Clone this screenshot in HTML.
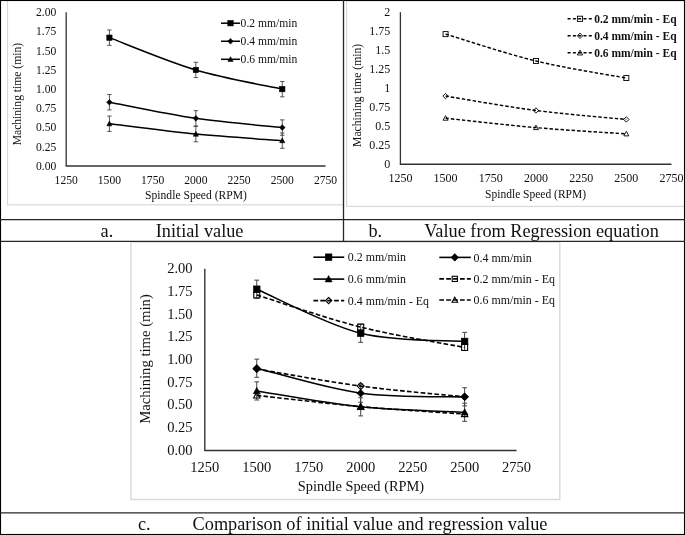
<!DOCTYPE html>
<html><head><meta charset="utf-8"><title>Machining time charts</title>
<style>
html,body{margin:0;padding:0;background:#fff;width:685px;height:535px;overflow:hidden}
svg{display:block}
text{font-family:"Liberation Serif", serif;fill:#111}
</style></head><body>
<svg width="685" height="535" viewBox="0 0 685 535" style="filter:grayscale(1)" font-family='"Liberation Serif", serif' fill="#111">
<rect width="685" height="535" fill="#fff"/>
<g>
<rect x="7.5" y="-1" width="336" height="205.8" fill="none" stroke="#d9d9d9" stroke-width="1.2"/>
<line x1="66.20" y1="12.30" x2="66.20" y2="166.00" stroke="#333" stroke-width="1.3"/>
<line x1="65.60" y1="166.00" x2="325.50" y2="166.00" stroke="#333" stroke-width="1.4"/>
<text x="56.30" y="169.90" font-size="11.6" text-anchor="end">0.00</text>
<text x="56.30" y="150.69" font-size="11.6" text-anchor="end">0.25</text>
<text x="56.30" y="131.47" font-size="11.6" text-anchor="end">0.50</text>
<text x="56.30" y="112.26" font-size="11.6" text-anchor="end">0.75</text>
<text x="56.30" y="93.05" font-size="11.6" text-anchor="end">1.00</text>
<text x="56.30" y="73.84" font-size="11.6" text-anchor="end">1.25</text>
<text x="56.30" y="54.63" font-size="11.6" text-anchor="end">1.50</text>
<text x="56.30" y="35.41" font-size="11.6" text-anchor="end">1.75</text>
<text x="56.30" y="16.20" font-size="11.6" text-anchor="end">2.00</text>
<text x="66.20" y="183.60" font-size="11.6" text-anchor="middle">1250</text>
<text x="109.42" y="183.60" font-size="11.6" text-anchor="middle">1500</text>
<text x="152.63" y="183.60" font-size="11.6" text-anchor="middle">1750</text>
<text x="195.85" y="183.60" font-size="11.6" text-anchor="middle">2000</text>
<text x="239.07" y="183.60" font-size="11.6" text-anchor="middle">2250</text>
<text x="282.28" y="183.60" font-size="11.6" text-anchor="middle">2500</text>
<text x="325.50" y="183.60" font-size="11.6" text-anchor="middle">2750</text>
<text x="196.00" y="199.20" font-size="11.6" text-anchor="middle">Spindle Speed (RPM)</text>
<text x="21.50" y="94.10" font-size="11.6" text-anchor="middle" transform="rotate(-90 21.50 94.10)">Machining time (min)</text>
<path d="M109.42,29.98 V45.35 M107.22,29.98 H111.62 M107.22,45.35 H111.62" stroke="#444" stroke-width="0.9" fill="none"/>
<path d="M195.85,62.25 V77.62 M193.65,62.25 H198.05 M193.65,77.62 H198.05" stroke="#444" stroke-width="0.9" fill="none"/>
<path d="M282.28,81.47 V96.84 M280.08,81.47 H284.48 M280.08,96.84 H284.48" stroke="#444" stroke-width="0.9" fill="none"/>
<path d="M109.42,37.66 C123.82,43.04 167.04,61.36 195.85,69.94 C224.66,78.52 267.88,85.95 282.28,89.15" stroke="#000" stroke-width="1.5" fill="none"/>
<rect x="106.77" y="35.01" width="5.30" height="5.30" fill="#000" stroke="#000" stroke-width="0.6"/>
<rect x="193.20" y="67.29" width="5.30" height="5.30" fill="#000" stroke="#000" stroke-width="0.6"/>
<rect x="279.63" y="86.50" width="5.30" height="5.30" fill="#000" stroke="#000" stroke-width="0.6"/>
<path d="M109.42,94.53 V109.90 M107.22,94.53 H111.62 M107.22,109.90 H111.62" stroke="#444" stroke-width="0.9" fill="none"/>
<path d="M195.85,110.67 V126.04 M193.65,110.67 H198.05 M193.65,126.04 H198.05" stroke="#444" stroke-width="0.9" fill="none"/>
<path d="M282.28,119.89 V135.26 M280.08,119.89 H284.48 M280.08,135.26 H284.48" stroke="#444" stroke-width="0.9" fill="none"/>
<path d="M109.42,102.21 C123.82,104.90 167.04,114.13 195.85,118.35 C224.66,122.58 267.88,126.04 282.28,127.58" stroke="#000" stroke-width="1.5" fill="none"/>
<path d="M109.42,99.41 L112.22,102.21 L109.42,105.01 L106.62,102.21 Z" fill="#000" stroke="#000" stroke-width="0.6"/>
<path d="M195.85,115.55 L198.65,118.35 L195.85,121.15 L193.05,118.35 Z" fill="#000" stroke="#000" stroke-width="0.6"/>
<path d="M282.28,124.78 L285.08,127.58 L282.28,130.38 L279.48,127.58 Z" fill="#000" stroke="#000" stroke-width="0.6"/>
<path d="M109.42,116.05 V131.42 M107.22,116.05 H111.62 M107.22,131.42 H111.62" stroke="#444" stroke-width="0.9" fill="none"/>
<path d="M195.85,126.42 V141.79 M193.65,126.42 H198.05 M193.65,141.79 H198.05" stroke="#444" stroke-width="0.9" fill="none"/>
<path d="M282.28,132.95 V148.32 M280.08,132.95 H284.48 M280.08,148.32 H284.48" stroke="#444" stroke-width="0.9" fill="none"/>
<path d="M109.42,123.73 C123.82,125.46 167.04,131.29 195.85,134.11 C224.66,136.93 267.88,139.55 282.28,140.64" stroke="#000" stroke-width="1.5" fill="none"/>
<path d="M109.42,121.13 L112.02,125.81 L106.82,125.81 Z" fill="#000" stroke="#000" stroke-width="0.6" stroke-linejoin="miter"/>
<path d="M195.85,131.51 L198.45,136.19 L193.25,136.19 Z" fill="#000" stroke="#000" stroke-width="0.6" stroke-linejoin="miter"/>
<path d="M282.28,138.04 L284.88,142.72 L279.68,142.72 Z" fill="#000" stroke="#000" stroke-width="0.6" stroke-linejoin="miter"/>
<line x1="221" y1="23.20" x2="240" y2="23.20" stroke="#000" stroke-width="1.5"/>
<rect x="227.80" y="20.50" width="5.40" height="5.40" fill="#000" stroke="#000" stroke-width="0.6"/>
<text x="240.60" y="27.10" font-size="11.6" text-anchor="start">0.2 mm/min</text>
<line x1="221" y1="41.25" x2="240" y2="41.25" stroke="#000" stroke-width="1.5"/>
<path d="M230.50,38.45 L233.30,41.25 L230.50,44.05 L227.70,41.25 Z" fill="#000" stroke="#000" stroke-width="0.6"/>
<text x="240.60" y="45.15" font-size="11.6" text-anchor="start">0.4 mm/min</text>
<line x1="221" y1="59.30" x2="240" y2="59.30" stroke="#000" stroke-width="1.5"/>
<path d="M230.50,56.70 L233.10,61.38 L227.90,61.38 Z" fill="#000" stroke="#000" stroke-width="0.6" stroke-linejoin="miter"/>
<text x="240.60" y="63.20" font-size="11.6" text-anchor="start">0.6 mm/min</text>
<rect x="346.6" y="0.6" width="340" height="205.8" fill="none" stroke="#d9d9d9" stroke-width="1.2"/>
<line x1="400.40" y1="12.20" x2="400.40" y2="164.30" stroke="#333" stroke-width="1.3"/>
<line x1="399.80" y1="164.30" x2="671.50" y2="164.30" stroke="#333" stroke-width="1.4"/>
<text x="390.20" y="168.30" font-size="12.0" text-anchor="end">0</text>
<text x="390.20" y="149.29" font-size="12.0" text-anchor="end">0.25</text>
<text x="390.20" y="130.28" font-size="12.0" text-anchor="end">0.5</text>
<text x="390.20" y="111.26" font-size="12.0" text-anchor="end">0.75</text>
<text x="390.20" y="92.25" font-size="12.0" text-anchor="end">1</text>
<text x="390.20" y="73.24" font-size="12.0" text-anchor="end">1.25</text>
<text x="390.20" y="54.22" font-size="12.0" text-anchor="end">1.5</text>
<text x="390.20" y="35.21" font-size="12.0" text-anchor="end">1.75</text>
<text x="390.20" y="16.20" font-size="12.0" text-anchor="end">2</text>
<text x="400.40" y="182.20" font-size="12.0" text-anchor="middle">1250</text>
<text x="445.58" y="182.20" font-size="12.0" text-anchor="middle">1500</text>
<text x="490.77" y="182.20" font-size="12.0" text-anchor="middle">1750</text>
<text x="535.95" y="182.20" font-size="12.0" text-anchor="middle">2000</text>
<text x="581.13" y="182.20" font-size="12.0" text-anchor="middle">2250</text>
<text x="626.32" y="182.20" font-size="12.0" text-anchor="middle">2500</text>
<text x="671.50" y="182.20" font-size="12.0" text-anchor="middle">2750</text>
<text x="535.60" y="198.20" font-size="11.5" text-anchor="middle">Spindle Speed (RPM)</text>
<text x="360.60" y="95.40" font-size="11.7" text-anchor="middle" transform="rotate(-90 360.60 95.40)">Machining time (min)</text>
<path d="M445.58,34.10 C460.64,38.59 505.83,53.70 535.95,61.02 C566.07,68.35 611.26,75.22 626.32,78.06" stroke="#000" stroke-width="1.45" fill="none" stroke-dasharray="3.5,2.0"/>
<rect x="443.08" y="31.60" width="5.00" height="5.00" fill="none" stroke="#000" stroke-width="0.9"/>
<rect x="533.45" y="58.52" width="5.00" height="5.00" fill="none" stroke="#000" stroke-width="0.9"/>
<rect x="623.82" y="75.56" width="5.00" height="5.00" fill="none" stroke="#000" stroke-width="0.9"/>
<path d="M445.58,96.08 C460.64,98.48 505.83,106.57 535.95,110.46 C566.07,114.35 611.26,117.93 626.32,119.43" stroke="#000" stroke-width="1.45" fill="none" stroke-dasharray="3.5,2.0"/>
<path d="M445.58,93.38 L448.28,96.08 L445.58,98.78 L442.88,96.08 Z" fill="none" stroke="#000" stroke-width="0.9"/>
<path d="M535.95,107.76 L538.65,110.46 L535.95,113.16 L533.25,110.46 Z" fill="none" stroke="#000" stroke-width="0.9"/>
<path d="M626.32,116.73 L629.02,119.43 L626.32,122.13 L623.62,119.43 Z" fill="none" stroke="#000" stroke-width="0.9"/>
<path d="M445.58,118.21 C460.64,119.79 505.83,125.03 535.95,127.64 C566.07,130.25 611.26,132.84 626.32,133.88" stroke="#000" stroke-width="1.45" fill="none" stroke-dasharray="3.5,2.0"/>
<path d="M445.58,115.71 L448.08,120.21 L443.08,120.21 Z" fill="none" stroke="#000" stroke-width="0.9" stroke-linejoin="miter"/>
<path d="M535.95,125.14 L538.45,129.64 L533.45,129.64 Z" fill="none" stroke="#000" stroke-width="0.9" stroke-linejoin="miter"/>
<path d="M626.32,131.38 L628.82,135.88 L623.82,135.88 Z" fill="none" stroke="#000" stroke-width="0.9" stroke-linejoin="miter"/>
<rect x="577.40" y="16.20" width="5.20" height="5.20" fill="none" stroke="#000" stroke-width="0.9"/>
<line x1="567.6" y1="18.80" x2="592.6" y2="18.80" stroke="#000" stroke-width="1.45" stroke-dasharray="3.0,2.3"/>
<text x="594.20" y="22.80" font-size="11.5" text-anchor="start" font-weight="bold">0.2 mm/min - Eq</text>
<path d="M580.00,33.10 L582.70,35.80 L580.00,38.50 L577.30,35.80 Z" fill="none" stroke="#000" stroke-width="0.9"/>
<line x1="567.6" y1="35.80" x2="592.6" y2="35.80" stroke="#000" stroke-width="1.45" stroke-dasharray="3.0,2.3"/>
<text x="594.20" y="39.80" font-size="11.5" text-anchor="start" font-weight="bold">0.4 mm/min - Eq</text>
<path d="M580.00,50.10 L582.70,54.96 L577.30,54.96 Z" fill="none" stroke="#000" stroke-width="0.9" stroke-linejoin="miter"/>
<line x1="567.6" y1="52.80" x2="592.6" y2="52.80" stroke="#000" stroke-width="1.45" stroke-dasharray="3.0,2.3"/>
<text x="594.20" y="56.80" font-size="11.5" text-anchor="start" font-weight="bold">0.6 mm/min - Eq</text>
<rect x="130.9" y="242" width="428.9" height="257.5" fill="none" stroke="#d9d9d9" stroke-width="1.4"/>
<line x1="204.80" y1="268.80" x2="204.80" y2="450.40" stroke="#333" stroke-width="1.4"/>
<line x1="204.20" y1="450.40" x2="516.60" y2="450.40" stroke="#333" stroke-width="1.5"/>
<text x="192.60" y="454.70" font-size="14.5" text-anchor="end">0.00</text>
<text x="192.60" y="432.00" font-size="14.5" text-anchor="end">0.25</text>
<text x="192.60" y="409.30" font-size="14.5" text-anchor="end">0.50</text>
<text x="192.60" y="386.60" font-size="14.5" text-anchor="end">0.75</text>
<text x="192.60" y="363.90" font-size="14.5" text-anchor="end">1.00</text>
<text x="192.60" y="341.20" font-size="14.5" text-anchor="end">1.25</text>
<text x="192.60" y="318.50" font-size="14.5" text-anchor="end">1.50</text>
<text x="192.60" y="295.80" font-size="14.5" text-anchor="end">1.75</text>
<text x="192.60" y="273.10" font-size="14.5" text-anchor="end">2.00</text>
<text x="204.80" y="471.80" font-size="14.5" text-anchor="middle">1250</text>
<text x="256.77" y="471.80" font-size="14.5" text-anchor="middle">1500</text>
<text x="308.73" y="471.80" font-size="14.5" text-anchor="middle">1750</text>
<text x="360.70" y="471.80" font-size="14.5" text-anchor="middle">2000</text>
<text x="412.67" y="471.80" font-size="14.5" text-anchor="middle">2250</text>
<text x="464.63" y="471.80" font-size="14.5" text-anchor="middle">2500</text>
<text x="516.60" y="471.80" font-size="14.5" text-anchor="middle">2750</text>
<text x="361.00" y="491.20" font-size="14.4" text-anchor="middle">Spindle Speed (RPM)</text>
<text x="149.60" y="359.00" font-size="14.7" text-anchor="middle" transform="rotate(-90 149.60 359.00)">Machining time (min)</text>
<path d="M256.77,280.15 V298.31 M254.37,280.15 H259.17 M254.37,298.31 H259.17" stroke="#444" stroke-width="1.0" fill="none"/>
<path d="M360.70,324.19 V342.35 M358.30,324.19 H363.10 M358.30,342.35 H363.10" stroke="#444" stroke-width="1.0" fill="none"/>
<path d="M464.63,332.36 V350.52 M462.23,332.36 H467.03 M462.23,350.52 H467.03" stroke="#444" stroke-width="1.0" fill="none"/>
<path d="M256.77,359.15 V377.31 M254.37,359.15 H259.17 M254.37,377.31 H259.17" stroke="#444" stroke-width="1.0" fill="none"/>
<path d="M360.70,384.12 V402.28 M358.30,384.12 H363.10 M358.30,402.28 H363.10" stroke="#444" stroke-width="1.0" fill="none"/>
<path d="M464.63,387.75 V405.91 M462.23,387.75 H467.03 M462.23,405.91 H467.03" stroke="#444" stroke-width="1.0" fill="none"/>
<path d="M256.77,381.85 V400.01 M254.37,381.85 H259.17 M254.37,400.01 H259.17" stroke="#444" stroke-width="1.0" fill="none"/>
<path d="M360.70,397.74 V415.90 M358.30,397.74 H363.10 M358.30,415.90 H363.10" stroke="#444" stroke-width="1.0" fill="none"/>
<path d="M464.63,403.18 V421.34 M462.23,403.18 H467.03 M462.23,421.34 H467.03" stroke="#444" stroke-width="1.0" fill="none"/>
<path d="M256.77,294.95 C274.09,300.31 326.06,318.35 360.70,327.09 C395.34,335.84 447.31,344.04 464.63,347.43" stroke="#000" stroke-width="1.6" fill="none" stroke-dasharray="4.6,2.3"/>
<path d="M256.77,368.95 C274.09,371.81 326.06,381.47 360.70,386.11 C395.34,390.76 447.31,395.04 464.63,396.83" stroke="#000" stroke-width="1.6" fill="none" stroke-dasharray="4.6,2.3"/>
<path d="M256.77,395.38 C274.09,397.25 326.06,403.52 360.70,406.63 C395.34,409.75 447.31,412.84 464.63,414.08" stroke="#000" stroke-width="1.6" fill="none" stroke-dasharray="4.6,2.3"/>
<path d="M256.77,289.23 C274.09,296.57 326.06,324.57 360.70,333.27 C395.34,341.97 447.31,340.08 464.63,341.44" stroke="#000" stroke-width="1.6" fill="none"/>
<path d="M256.77,368.23 C274.09,372.39 326.06,388.43 360.70,393.20 C395.34,397.96 447.31,396.22 464.63,396.83" stroke="#000" stroke-width="1.6" fill="none"/>
<path d="M256.77,390.93 C274.09,393.57 326.06,403.26 360.70,406.82 C395.34,410.37 447.31,411.36 464.63,412.26" stroke="#000" stroke-width="1.6" fill="none"/>
<rect x="253.77" y="291.95" width="6.00" height="6.00" fill="none" stroke="#000" stroke-width="1.1"/>
<rect x="357.70" y="324.09" width="6.00" height="6.00" fill="none" stroke="#000" stroke-width="1.1"/>
<rect x="461.63" y="344.43" width="6.00" height="6.00" fill="none" stroke="#000" stroke-width="1.1"/>
<path d="M256.77,365.45 L260.27,368.95 L256.77,372.45 L253.27,368.95 Z" fill="none" stroke="#000" stroke-width="1.1"/>
<path d="M360.70,382.61 L364.20,386.11 L360.70,389.61 L357.20,386.11 Z" fill="none" stroke="#000" stroke-width="1.1"/>
<path d="M464.63,393.33 L468.13,396.83 L464.63,400.33 L461.13,396.83 Z" fill="none" stroke="#000" stroke-width="1.1"/>
<path d="M256.77,392.18 L259.97,397.94 L253.57,397.94 Z" fill="none" stroke="#000" stroke-width="1.1" stroke-linejoin="miter"/>
<path d="M360.70,403.43 L363.90,409.19 L357.50,409.19 Z" fill="none" stroke="#000" stroke-width="1.1" stroke-linejoin="miter"/>
<path d="M464.63,410.88 L467.83,416.64 L461.43,416.64 Z" fill="none" stroke="#000" stroke-width="1.1" stroke-linejoin="miter"/>
<rect x="253.47" y="285.93" width="6.60" height="6.60" fill="#000" stroke="#000" stroke-width="0.6"/>
<rect x="357.40" y="329.97" width="6.60" height="6.60" fill="#000" stroke="#000" stroke-width="0.6"/>
<rect x="461.33" y="338.14" width="6.60" height="6.60" fill="#000" stroke="#000" stroke-width="0.6"/>
<path d="M256.77,364.43 L260.57,368.23 L256.77,372.03 L252.97,368.23 Z" fill="#000" stroke="#000" stroke-width="0.6"/>
<path d="M360.70,389.40 L364.50,393.20 L360.70,397.00 L356.90,393.20 Z" fill="#000" stroke="#000" stroke-width="0.6"/>
<path d="M464.63,393.03 L468.43,396.83 L464.63,400.63 L460.83,396.83 Z" fill="#000" stroke="#000" stroke-width="0.6"/>
<path d="M256.77,387.43 L260.27,393.73 L253.27,393.73 Z" fill="#000" stroke="#000" stroke-width="0.6" stroke-linejoin="miter"/>
<path d="M360.70,403.32 L364.20,409.62 L357.20,409.62 Z" fill="#000" stroke="#000" stroke-width="0.6" stroke-linejoin="miter"/>
<path d="M464.63,408.76 L468.13,415.06 L461.13,415.06 Z" fill="#000" stroke="#000" stroke-width="0.6" stroke-linejoin="miter"/>
<line x1="313.4" y1="257.2" x2="344.2" y2="257.2" stroke="#000" stroke-width="1.6"/>
<rect x="325.30" y="253.90" width="6.60" height="6.60" fill="#000" stroke="#000" stroke-width="0.6"/>
<text x="347.80" y="261.30" font-size="11.9" text-anchor="start">0.2 mm/min</text>
<line x1="439.3" y1="257.4" x2="470.8" y2="257.4" stroke="#000" stroke-width="1.6"/>
<path d="M454.80,253.60 L458.60,257.40 L454.80,261.20 L451.00,257.40 Z" fill="#000" stroke="#000" stroke-width="0.6"/>
<text x="473.60" y="261.50" font-size="11.9" text-anchor="start">0.4 mm/min</text>
<line x1="313.4" y1="279.1" x2="344.2" y2="279.1" stroke="#000" stroke-width="1.6"/>
<path d="M328.60,275.60 L332.10,281.90 L325.10,281.90 Z" fill="#000" stroke="#000" stroke-width="0.6" stroke-linejoin="miter"/>
<text x="347.80" y="283.20" font-size="11.9" text-anchor="start">0.6 mm/min</text>
<rect x="452.20" y="276.30" width="5.20" height="5.20" fill="none" stroke="#000" stroke-width="1.1"/>
<line x1="439.3" y1="278.9" x2="470.8" y2="278.9" stroke="#000" stroke-width="1.6" stroke-dasharray="4.7,2.2"/>
<text x="473.60" y="283.00" font-size="11.9" text-anchor="start">0.2 mm/min - Eq</text>
<path d="M328.60,297.50 L331.70,300.60 L328.60,303.70 L325.50,300.60 Z" fill="none" stroke="#000" stroke-width="1.1"/>
<line x1="313.4" y1="300.6" x2="344.2" y2="300.6" stroke="#000" stroke-width="1.6" stroke-dasharray="4.7,2.2"/>
<text x="347.80" y="304.70" font-size="11.9" text-anchor="start">0.4 mm/min - Eq</text>
<path d="M454.80,297.20 L457.60,302.24 L452.00,302.24 Z" fill="none" stroke="#000" stroke-width="1.1" stroke-linejoin="miter"/>
<line x1="439.3" y1="300.0" x2="470.8" y2="300.0" stroke="#000" stroke-width="1.6" stroke-dasharray="4.7,2.2"/>
<text x="473.60" y="304.10" font-size="11.9" text-anchor="start">0.6 mm/min - Eq</text>
<rect x="0.5" y="0.5" width="684" height="534" fill="none" stroke="#000" stroke-width="1.1"/>
<line x1="0" y1="219.7" x2="685" y2="219.7" stroke="#262626" stroke-width="1.3"/>
<line x1="0" y1="241.3" x2="685" y2="241.3" stroke="#262626" stroke-width="1.3"/>
<line x1="0" y1="512.8" x2="685" y2="512.8" stroke="#262626" stroke-width="1.3"/>
<line x1="343.5" y1="0" x2="343.5" y2="241.3" stroke="#262626" stroke-width="1.3"/>
<text x="100.60" y="237.00" font-size="18.25" text-anchor="start">a.</text>
<text x="155.80" y="237.00" font-size="18.25" text-anchor="start">Initial value</text>
<text x="368.40" y="237.00" font-size="18.25" text-anchor="start">b.</text>
<text x="424.20" y="237.00" font-size="18.25" text-anchor="start">Value from Regression equation</text>
<text x="138.00" y="530.00" font-size="18.25" text-anchor="start">c.</text>
<text x="192.60" y="530.00" font-size="18.25" text-anchor="start">Comparison of initial value and regression value</text>
</g>
</svg>
</body></html>
